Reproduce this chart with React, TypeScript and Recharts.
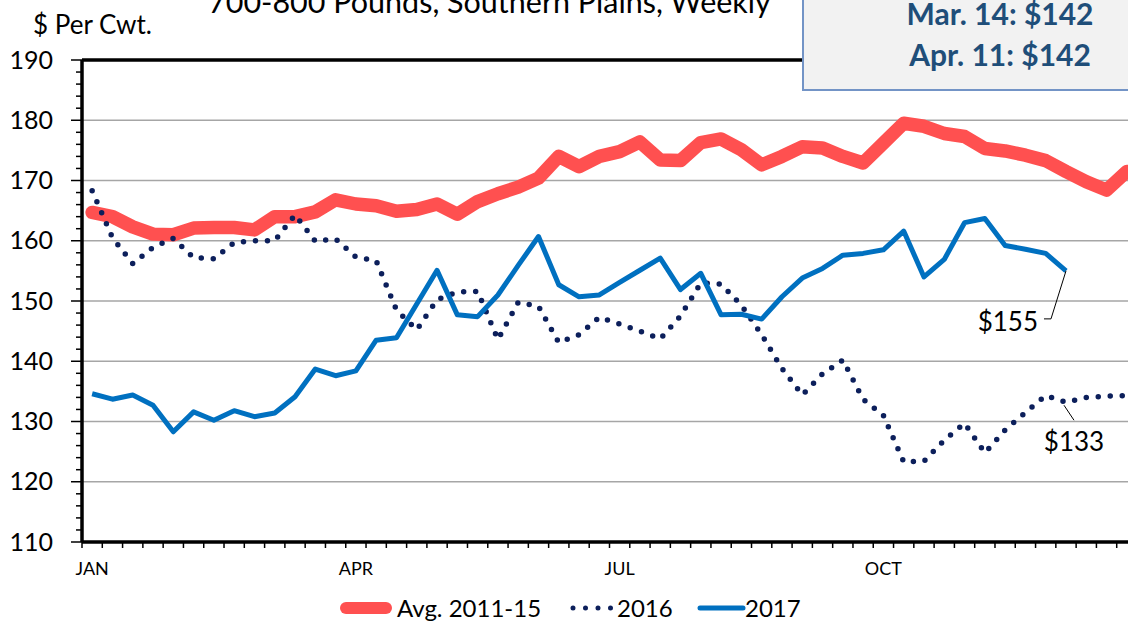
import React from 'react';
import {
  ComposedChart,
  Line,
  XAxis,
  YAxis,
  ReferenceLine,
} from 'recharts';

// weekly steer prices, $ per cwt
const weeks = Array.from({ length: 52 }, (_, i) => i);

const avg1115 = [
  164.7, 164.0, 162.3, 161.1, 161.0, 162.1, 162.2, 162.2, 161.8, 164.0, 164.0, 164.8, 166.8,
  166.1, 165.8, 164.9, 165.2, 166.1, 164.4, 166.5, 167.8, 168.9, 170.4, 174.0, 172.3, 174.0,
  174.8, 176.4, 173.4, 173.3, 176.3, 176.9, 175.1, 172.6, 174.0, 175.6, 175.4, 174.0, 172.9,
  176.2, 179.5, 179.0, 177.8, 177.3, 175.3, 174.9, 174.2, 173.3, 171.5, 169.8, 168.4, 171.5,
];

const y2016 = [
  168.3, 160.5, 156.2, 158.9, 160.4, 157.2, 157.0, 159.7, 160.0, 160.0, 164.3, 159.9, 160.3,
  157.3, 156.7, 148.5, 145.2, 150.2, 151.5, 151.6, 143.6, 149.8, 149.1, 143.1, 144.4, 147.3,
  146.2, 145.0, 143.7, 147.5, 153.0, 152.8, 149.3, 144.4, 138.8, 134.4, 137.9, 140.2, 133.7,
  131.0, 123.3, 123.4, 126.9, 129.7, 124.8, 128.6, 131.5, 134.3, 133.2, 134.0, 134.2, 134.3,
];

const y2017: (number | null)[] = [
  134.6, 133.7, 134.4, 132.7, 128.3, 131.6, 130.2, 131.8, 130.8, 131.4, 134.1, 138.7, 137.6,
  138.4, 143.5, 143.9, 149.5, 155.1, 147.7, 147.4, 151.0, 155.9, 160.7, 152.7, 150.7, 151.0,
  153.1, 155.1, 157.1, 151.9, 154.6, 147.7, 147.8, 147.0, 150.7, 153.8, 155.4, 157.6, 157.9,
  158.5, 161.6, 154.0, 156.9, 163.0, 163.7, 159.2, 158.6, 157.9, 155.0, null, null, null,
];

const monthTicks = [0, 13, 26, 39];
const monthLabels = ['JAN', 'APR', 'JUL', 'OCT'];
const weekBounds = [-0.5, ...weeks.map((w) => w + 0.5)];
const yMajor = [110, 120, 130, 140, 150, 160, 170, 180, 190];
const yMinor = Array.from({ length: 41 }, (_, i) => 110 + i * 2);
const gridValues = [120, 130, 140, 150, 160, 170, 180];

const data = weeks.map((i) => ({
  i,
  avg: avg1115[i],
  y2016: y2016[i],
  y2017: y2017[i],
}));

const FONT = 'Lato, "Open Sans", sans-serif';
const AXIS_X = 82;
const RED = '#FF5050';
const NAVY = '#0C1F5B';
const BLUE = '#0070C0';
const LABEL_WEEK = 48;

function YTick(props: any) {
  const { y, payload } = props;
  const major = payload.value % 10 === 0;
  return (
    <g>
      <line
        x1={AXIS_X - (major ? 11 : 6)}
        x2={AXIS_X}
        y1={y}
        y2={y}
        stroke="#000"
        strokeWidth={1.5}
      />
      {major && (
        <text
          x={AXIS_X - 29}
          y={y}
          dy={8.5}
          textAnchor="end"
          fontSize={25}
          fontFamily={FONT}
          fill="#000"
        >
          {payload.value}
        </text>
      )}
    </g>
  );
}

// week boundary ticks carry no text
const EmptyTick = () => <g />;

function Label2017(props: any) {
  const { x, y, index, value } = props;
  if (index !== LABEL_WEEK) return <g />;
  return (
    <g>
      <polyline
        points={`${x},${y} ${x - 15},${y + 48} ${x - 22},${y + 48}`}
        fill="none"
        stroke="#000"
        strokeWidth={1}
      />
      <text x={x - 28} y={y + 60} textAnchor="end" fontSize={26} fontFamily={FONT} fill="#000">
        ${Math.round(value)}
      </text>
    </g>
  );
}

function Label2016(props: any) {
  const { x, y, index, value } = props;
  if (index !== LABEL_WEEK) return <g />;
  return (
    <g>
      <line x1={x - 2} y1={y + 3} x2={x + 8} y2={y + 18} stroke="#000" strokeWidth={1} />
      <text x={x + 8} y={y + 49} textAnchor="middle" fontSize={26} fontFamily={FONT} fill="#000">
        ${Math.round(value)}
      </text>
    </g>
  );
}

function LegendBar() {
  const txt = { fontSize: 24, fontFamily: FONT, fill: '#000' } as const;
  return (
    <svg
      width={1128}
      height={40}
      style={{ position: 'absolute', left: 0, top: 588 }}
    >
      <line x1={346} x2={386} y1={20} y2={20} stroke={RED} strokeWidth={12} strokeLinecap="round" />
      <text x={397} y={29} {...txt}>Avg. 2011-15</text>
      <line
        x1={573}
        x2={611}
        y1={20}
        y2={20}
        stroke={NAVY}
        strokeWidth={5}
        strokeDasharray="0 12.5"
        strokeLinecap="round"
      />
      <text x={617} y={29} {...txt}>2016</text>
      <line x1={700} x2={743} y1={20} y2={20} stroke={BLUE} strokeWidth={5} strokeLinecap="round" />
      <text x={745} y={29} {...txt}>2017</text>
    </svg>
  );
}

export default function App() {
  return (
    <div
      style={{
        position: 'absolute',
        left: 0,
        top: 0,
        width: 1128,
        height: 622,
        overflow: 'hidden',
        background: '#fff',
        fontFamily: FONT,
      }}
    >
      <div
        style={{
          position: 'absolute',
          left: 208,
          top: -17,
          fontSize: 30.5,
          whiteSpace: 'nowrap',
          color: '#000',
        }}
      >
        700-800 Pounds, Southern Plains, Weekly
      </div>
      <div
        style={{
          position: 'absolute',
          left: 33,
          top: 8,
          fontSize: 26,
          whiteSpace: 'nowrap',
          color: '#000',
        }}
      >
        $ Per Cwt.
      </div>

      <div style={{ position: 'absolute', left: 0, top: 0 }}>
        <ComposedChart
          width={1160}
          height={622}
          data={data}
          margin={{ top: 60, right: 23, bottom: 40, left: 0 }}
        >
          <XAxis
            xAxisId="w"
            dataKey="i"
            type="number"
            domain={[-0.5, 51.5]}
            ticks={weekBounds}
            interval={0}
            tick={<EmptyTick />}
            tickSize={6}
            tickLine={{ stroke: '#000', strokeWidth: 1.5 }}
            axisLine={{ stroke: '#000', strokeWidth: 3.5 }}
            height={40}
            allowDataOverflow
          />
          <YAxis
            domain={[110, 190]}
            ticks={yMinor}
            interval={0}
            tick={<YTick />}
            tickLine={false}
            axisLine={{ stroke: '#000', strokeWidth: 3.5 }}
            width={AXIS_X}
            allowDataOverflow
          />
          {gridValues.map((v) => (
            <ReferenceLine
              key={v}
              xAxisId="w"
              y={v}
              stroke="#A6A6A6"
              strokeWidth={1.5}
            />
          ))}
          <ReferenceLine xAxisId="w" y={yMajor[yMajor.length - 1]} stroke="#000" strokeWidth={3.5} />
          {monthTicks.map((m, k) => (
            <ReferenceLine
              key={`m${m}`}
              xAxisId="w"
              x={m}
              stroke="none"
              label={(p: any) => (
                <text
                  x={p.viewBox.x}
                  y={p.viewBox.y + p.viewBox.height + 33}
                  textAnchor="middle"
                  fontSize={18}
                  fontFamily={FONT}
                  fill="#000"
                >
                  {monthLabels[k]}
                </text>
              )}
            />
          ))}
          <Line
            xAxisId="w"
            dataKey="avg"
            stroke={RED}
            strokeWidth={13.5}
            strokeLinejoin="round"
            strokeLinecap="round"
            dot={false}
            isAnimationActive={false}
          />
          <Line
            xAxisId="w"
            dataKey="y2016"
            stroke={NAVY}
            strokeWidth={5.5}
            strokeDasharray="0 12"
            strokeLinecap="round"
            dot={false}
            label={<Label2016 />}
            isAnimationActive={false}
          />
          <Line
            xAxisId="w"
            dataKey="y2017"
            stroke={BLUE}
            strokeWidth={5}
            strokeLinejoin="round"
            dot={false}
            label={<Label2017 />}
            isAnimationActive={false}
          />
        </ComposedChart>
      </div>

      <div
        style={{
          position: 'absolute',
          left: 802,
          top: -40,
          width: 360,
          height: 131,
          background: '#F2F2F2',
          border: '2px solid #7394C6',
          boxSizing: 'border-box',
        }}
      >
        <div
          style={{
            position: 'absolute',
            left: 0,
            width: 392,
            top: 31,
            textAlign: 'center',
            color: '#1F4E79',
            fontWeight: 700,
            fontSize: 30,
            lineHeight: '41px',
            whiteSpace: 'nowrap',
          }}
        >
          <div>Mar. 14: $142</div>
          <div>Apr. 11: $142</div>
        </div>
      </div>
      <LegendBar />
    </div>
  );
}
